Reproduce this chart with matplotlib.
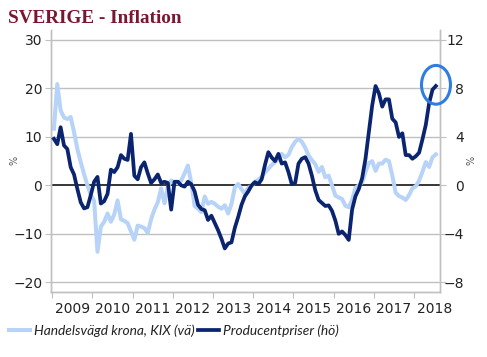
import matplotlib
matplotlib.use("Agg")
import matplotlib.pyplot as plt
import numpy as np
from matplotlib.patches import Ellipse
from matplotlib.ticker import FixedLocator, NullFormatter

title = "SVERIGE - Inflation"
label_kix = "Handelsvägd krona, KIX (vä)"
label_ppi = "Producentpriser (hö)"
years = [2009, 2010, 2011, 2012, 2013, 2014, 2015, 2016, 2017, 2018]
start_year = 2009

# Monthly values, Jan 2009 - Jul 2018
kix = [11.7, 20.9, 15.5, 14.0, 13.7, 14.1, 11.0, 7.5, 4.8, 2.3, 0.0, -2.0,
       -3.2, -13.7, -8.5, -7.5, -5.8, -7.5, -6.0, -3.1, -7.0, -7.3, -7.8, -9.5,
       -11.2, -8.3, -8.5, -8.8, -9.8, -7.0, -5.0, -3.5, -0.6, -3.7, -0.3, 1.0,
       0.6, 0.4, 1.0, 2.5, 4.1, 0.5, -4.3, -4.8, -5.5, -2.3, -3.8, -3.4,
       -3.8, -4.4, -4.8, -4.1, -5.8, -3.8, -0.4, 0.3, -0.8, -1.7, -0.5, -0.1,
       0.7, 1.2, 1.7, 2.7, 3.4, 4.2, 4.8, 5.5, 6.5, 5.8, 6.3, 7.9,
       9.0, 9.6, 9.0, 7.8, 6.2, 5.2, 4.4, 2.8, 3.8, 1.7, 2.0, 0.0,
       -2.1, -2.5, -2.8, -4.2, -4.5, -3.0, -0.5, 0.0, 0.6, 2.8, 4.6, 5.0,
       3.0, 4.5, 4.5, 5.3, 5.0, 2.0, -1.5, -2.2, -2.5, -3.0, -2.0, -0.6,
       -0.2, 1.0, 2.8, 4.8, 3.8, 5.8, 6.4]

ppi = [3.84, 3.4, 4.8, 3.3, 3.0, 1.5, 0.9, -0.3, -1.4, -1.9, -1.8, -0.8,
       0.3, 0.7, -1.5, -1.3, -0.7, 1.3, 1.1, 1.5, 2.5, 2.2, 2.1, 4.25,
       0.8, 0.5, 1.5, 1.9, 1.0, 0.2, 0.5, 0.9, 0.2, 0.3, 0.2, -2.0,
       0.3, 0.3, 0.0, -0.1, 0.3, 0.1, -0.5, -1.6, -1.95, -2.05, -2.85, -2.5,
       -3.1, -3.7, -4.4, -5.2, -4.8, -4.7, -3.5, -2.6, -1.6, -0.9, -0.5, 0.0,
       0.27, 0.1, 0.5, 1.7, 2.74, 2.3, 2.0, 2.6, 1.8, 1.9, 1.1, 0.1,
       0.2, 1.8, 2.2, 2.33, 1.8, 0.8, -0.4, -1.2, -1.45, -1.7, -1.65, -2.1,
       -2.9, -4.0, -3.8, -4.1, -4.5, -2.0, -0.9, -0.3, 0.6, 2.2, 4.4, 6.6,
       8.2, 7.6, 6.5, 7.1, 7.1, 5.5, 5.2, 4.0, 4.3, 2.5, 2.5, 2.2,
       2.4, 2.7, 3.8, 5.0, 6.8, 7.9, 8.2]

left_ticks = [30, 20, 10, 0, -10, -20]
right_ticks = [12, 8, 4, 0, -4, -8]

dates = start_year + (np.arange(len(kix)) + 0.5) / 12.0

plt.rcParams['font.family'] = ['DejaVu Sans']
fig = plt.figure(figsize=(4.87, 3.57), dpi=100)
ax = fig.add_axes([0.104, 0.182, 0.7995, 0.734])
ax2 = ax.twinx()

grid_c = '#C0C0C0'
light_c = '#B7D3F8'
dark_c = '#0B2470'

ax.set_ylim(-22.0, 32.06)
ax2.set_ylim(-22.0 * 0.4, 32.06 * 0.4)
ax.set_xlim(2008.96, 2018.645)

ax.set_yticks(left_ticks)
ax2.set_yticks(right_ticks)
for t in left_ticks:
    if t != 0:
        ax.axhline(t, color=grid_c, lw=1.0, zorder=0)
ax.axhline(0, color='black', lw=1.1, zorder=1)

ax.plot(dates, kix, color=light_c, lw=2.9, solid_joinstyle='round', zorder=2, label=label_kix)
ax2.plot(dates, ppi, color=dark_c, lw=2.7, solid_joinstyle='round', zorder=3, label=label_ppi)

# x ticks: year boundaries (major), labels at mid-year (minor)
ax.xaxis.set_major_locator(FixedLocator(years))
ax.xaxis.set_major_formatter(NullFormatter())
ax.xaxis.set_minor_locator(FixedLocator([y + 0.5 for y in years]))
ax.set_xticklabels([str(y) for y in years], minor=True)
ax.tick_params(axis='x', which='major', length=4, color=grid_c, direction='out')
ax.tick_params(axis='x', which='minor', length=0, pad=7, labelsize=10, labelcolor='#222222')

ax.tick_params(axis='y', length=4, color=grid_c, pad=2, labelsize=10, labelcolor='#222222')
ax2.tick_params(axis='y', length=4, color=grid_c, pad=13, labelsize=10, labelcolor='#222222')
for lab in ax2.get_yticklabels():
    lab.set_horizontalalignment('right')

for a in (ax, ax2):
    a.spines['top'].set_visible(False)
    for s in ('left', 'right', 'bottom'):
        a.spines[s].set_color(grid_c)
        a.spines[s].set_linewidth(1.0)

fig.text(0.03, 0.55, '%', rotation=90, fontsize=7, color='#555555', ha='center', va='center')
fig.text(0.969, 0.55, '%', rotation=90, fontsize=7, color='#555555', ha='center', va='center')

fig.text(0.016, 0.948, title, fontsize=13.8, fontweight='bold', color='#7A1630',
         family='Liberation Serif', ha='left', va='center')

# circle annotation
ell = Ellipse((2018.545, 8.3), 0.72, 3.2, fill=False, edgecolor='#2F7DE1', lw=2.2,
              clip_on=False, zorder=5)
ax2.add_patch(ell)

h1, l1 = ax.get_legend_handles_labels()
h2, l2 = ax2.get_legend_handles_labels()
leg = fig.legend(h1 + h2, l1 + l2, loc='center left', bbox_to_anchor=(0.01, 0.075),
                 ncol=2, frameon=False, handlelength=1.5, handletextpad=0.3,
                 columnspacing=0.3, prop={'family': 'Lato', 'style': 'italic', 'size': 9.9},
                 borderaxespad=0, borderpad=0.3)
for t in leg.get_texts():
    t.set_color('#222222')

fig.savefig('out.png', dpi=100)
